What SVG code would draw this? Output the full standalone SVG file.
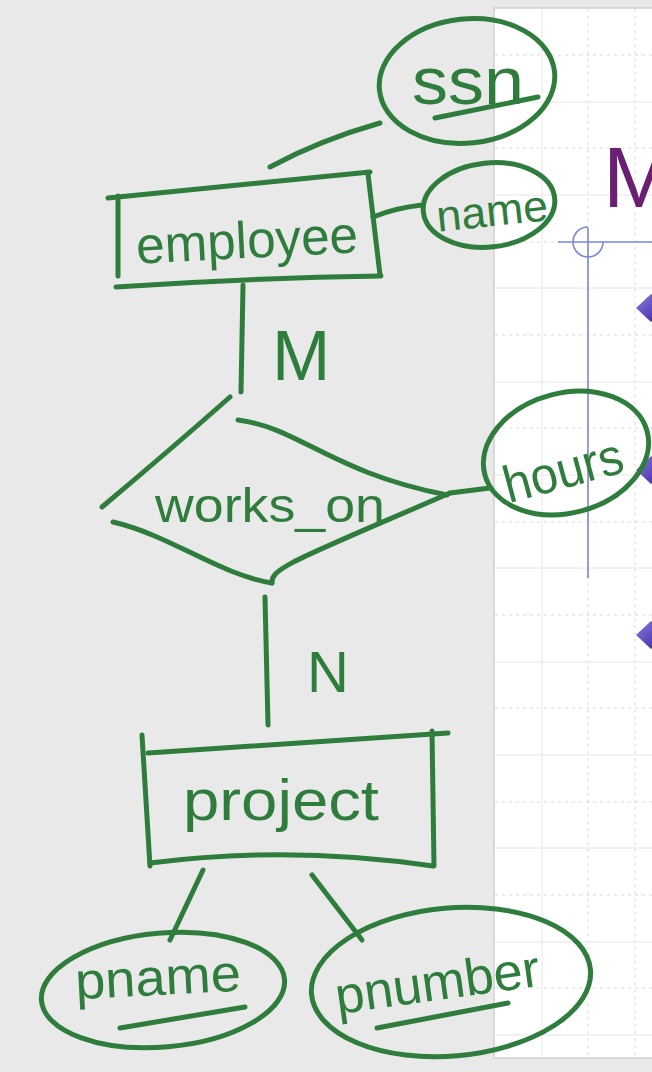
<svg xmlns="http://www.w3.org/2000/svg" width="652" height="1072" viewBox="0 0 652 1072">
  <defs>
    <style>
      .ink{fill:none;stroke:#2f7d3c;stroke-width:5;stroke-linecap:round;stroke-linejoin:round}
      .hw{fill:#2f7d3c;font-family:"Liberation Sans",Arial,sans-serif}
      .gs{stroke:#e6e6e6;stroke-width:1}
      .gd{stroke:#d9d9d9;stroke-width:1;stroke-dasharray:3 4}
      .cross{fill:none;stroke:#7d88d4;stroke-width:1.6}
    </style>
    <linearGradient id="bul" x1="0" y1="0" x2="1" y2="1">
      <stop offset="0" stop-color="#8a7ae0"/>
      <stop offset="1" stop-color="#3a1f9a"/>
    </linearGradient>
  </defs>
  <!-- background -->
  <rect x="0" y="0" width="652" height="1072" fill="#e9e9e9"/>
  <!-- slide -->
  <g id="slide">
    <rect x="494" y="8" width="170" height="1050" fill="#ffffff" stroke="#cfcfcf" stroke-width="1.5"/>
    <g id="grid">
      <line class="gs" x1="542" y1="9" x2="542" y2="1057"/>
      <line class="gd" x1="588" y1="9" x2="588" y2="1057"/>
      <line class="gd" x1="635" y1="9" x2="635" y2="1057"/>
      <line class="gd" x1="495" y1="55" x2="652" y2="55"/>
      <line class="gs" x1="495" y1="102" x2="652" y2="102"/>
      <line class="gd" x1="495" y1="148" x2="652" y2="148"/>
      <line class="gs" x1="495" y1="195" x2="652" y2="195"/>
      <line class="gd" x1="495" y1="242" x2="652" y2="242"/>
      <line class="gs" x1="495" y1="288" x2="652" y2="288"/>
      <line class="gd" x1="495" y1="335" x2="652" y2="335"/>
      <line class="gs" x1="495" y1="382" x2="652" y2="382"/>
      <line class="gd" x1="495" y1="428" x2="652" y2="428"/>
      <line class="gs" x1="495" y1="475" x2="652" y2="475"/>
      <line class="gd" x1="495" y1="522" x2="652" y2="522"/>
      <line class="gs" x1="495" y1="568" x2="652" y2="568"/>
      <line class="gd" x1="495" y1="615" x2="652" y2="615"/>
      <line class="gs" x1="495" y1="662" x2="652" y2="662"/>
      <line class="gd" x1="495" y1="708" x2="652" y2="708"/>
      <line class="gs" x1="495" y1="755" x2="652" y2="755"/>
      <line class="gd" x1="495" y1="802" x2="652" y2="802"/>
      <line class="gs" x1="495" y1="848" x2="652" y2="848"/>
      <line class="gd" x1="495" y1="895" x2="652" y2="895"/>
      <line class="gs" x1="495" y1="942" x2="652" y2="942"/>
      <line class="gd" x1="495" y1="988" x2="652" y2="988"/>
      <line class="gs" x1="495" y1="1035" x2="652" y2="1035"/>
    </g>
    <text x="603" y="207" font-family="Liberation Sans,Arial,sans-serif" font-size="86" fill="#6b1f72">M</text>
    <g id="crosshair">
      <line class="cross" x1="558" y1="242" x2="652" y2="242"/>
      <line class="cross" x1="588" y1="228" x2="588" y2="578"/>
      <path class="cross" d="M588,227 A15,15 0 1,0 603,242"/>
    </g>
    <g id="bullets" fill="url(#bul)">
      <polygon points="636,308 651,294 666,308 651,322"/>
      <polygon points="636,470 651,456 666,470 651,484"/>
      <polygon points="636,635 651,621 666,635 651,649"/>
    </g>
  </g>

  <g id="connectors" class="ink">
    <path d="M380,123 Q320,140 270,167"/>
    <path d="M373,217 Q395,208 422,205"/>
    <path d="M243,285 L241,392"/>
    <path d="M450,493 L490,488"/>
    <path d="M265,597 L268,725"/>
    <path d="M203,870 L170,940"/>
    <path d="M312,875 L362,940"/>
  </g>

  <g id="employee">
    <path class="ink" d="M108,198 L370,172"/>
    <path class="ink" d="M118,196 L118,276"/>
    <path class="ink" d="M116,287 Q250,278 381,276"/>
    <path class="ink" d="M368,174 L380,275"/>
    <text class="hw" x="247" y="258" font-size="52" text-anchor="middle" textLength="222" lengthAdjust="spacingAndGlyphs" transform="rotate(-3 247 240)">employee</text>
  </g>

  <g id="ssn">
    <ellipse class="ink" cx="467" cy="81" rx="88" ry="62" transform="rotate(-6 467 81)"/>
    <text class="hw" x="468" y="104" font-size="66" text-anchor="middle" textLength="112" lengthAdjust="spacingAndGlyphs">ssn</text>
    <path class="ink" d="M435,118 L538,97"/>
  </g>

  <g id="name">
    <ellipse class="ink" cx="489" cy="205" rx="66" ry="42" transform="rotate(-6 489 205)"/>
    <text class="hw" x="492" y="226" font-size="44" text-anchor="middle" textLength="112" lengthAdjust="spacingAndGlyphs" transform="rotate(-6 492 210)">name</text>
  </g>

  <g id="works_on">
    <path class="ink" d="M102,507 Q170,450 230,397"/>
    <path class="ink" d="M238,420 C300,428 330,472 447,495"/>
    <path class="ink" d="M113,522 C170,535 220,575 272,583"/>
    <path class="ink" d="M272,583 C270,568 300,558 450,493"/>
    <text class="hw" x="270" y="522" font-size="48" text-anchor="middle" textLength="230" lengthAdjust="spacingAndGlyphs">works_on</text>
  </g>

  <text id="label-M" class="hw" x="272" y="380" font-size="70">M</text>
  <text id="label-N" class="hw" x="307" y="692" font-size="58">N</text>

  <g id="hours">
    <ellipse class="ink" cx="566" cy="453" rx="84" ry="60" transform="rotate(-15 566 453)"/>
    <text class="hw" x="563" y="488" font-size="52" text-anchor="middle" textLength="122" lengthAdjust="spacingAndGlyphs" transform="rotate(-15 563 470)">hours</text>
  </g>

  <g id="project">
    <path class="ink" d="M148,753 L448,733"/>
    <path class="ink" d="M142,735 L150,866"/>
    <path class="ink" d="M150,863 Q290,845 433,866"/>
    <path class="ink" d="M432,731 L434,866"/>
    <text class="hw" x="281" y="820" font-size="58" text-anchor="middle" textLength="196" lengthAdjust="spacingAndGlyphs">project</text>
  </g>

  <g id="pname">
    <ellipse class="ink" cx="163" cy="990" rx="122" ry="57" transform="rotate(-5 163 990)"/>
    <text class="hw" x="158" y="995" font-size="52" text-anchor="middle" textLength="166" lengthAdjust="spacingAndGlyphs" transform="rotate(-3 158 980)">pname</text>
    <path class="ink" d="M120,1028 L245,1007"/>
  </g>

  <g id="pnumber">
    <ellipse class="ink" cx="451" cy="982" rx="140" ry="74" transform="rotate(-5 451 982)"/>
    <text class="hw" x="437" y="1000" font-size="52" text-anchor="middle" textLength="206" lengthAdjust="spacingAndGlyphs" transform="rotate(-8 437 980)">pnumber</text>
    <path class="ink" d="M377,1028 L508,1003"/>
  </g>
</svg>
